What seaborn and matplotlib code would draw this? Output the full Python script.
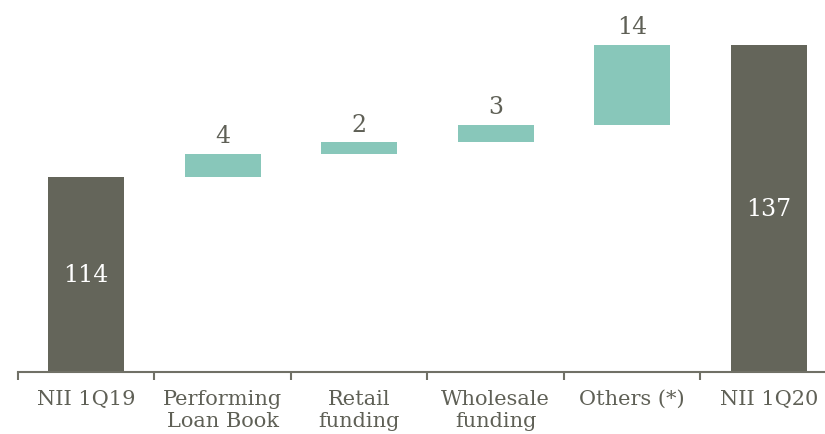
import matplotlib
matplotlib.use("Agg")
import matplotlib.pyplot as plt
import seaborn as sns
import pandas as pd
import numpy as np

# Net interest income bridge, 1Q19 -> 1Q20
categories = ["NII 1Q19", "Performing\nLoan Book", "Retail\nfunding",
              "Wholesale\nfunding", "Others (*)", "NII 1Q20"]
changes = [114, 4, 2, 3, 14, 137]
is_total = [True, False, False, False, False, True]

DARK = "#64655a"
TEAL = "#88c7ba"
TEXT = "#5f6056"

# Floating bars start where the running total left off
bases, tops = [], []
running = 0
for v, tot in zip(changes, is_total):
    if tot:
        bases.append(0)
        tops.append(v)
        running = v
    else:
        bases.append(running)
        running += v
        tops.append(running)

df = pd.DataFrame({"category": categories, "top": tops, "base": bases,
                   "change": changes, "total": is_total})

sns.set_theme(style="white")
plt.rcParams["font.family"] = ["DejaVu Serif"]

fig = plt.figure(figsize=(8.25, 4.35), dpi=100)
ax = fig.add_axes([18 / 825, 62 / 435, 819 / 825, 373 / 435])

palette = {c: (DARK if t else TEAL) for c, t in zip(categories, is_total)}
sns.barplot(data=df, x="category", y="top", hue="category", palette=palette,
            width=0.56, legend=False, saturation=1, ax=ax)

# Lift the increments so each bar spans base..top
for patch, b, t in zip(ax.patches, bases, tops):
    patch.set_y(b)
    patch.set_height(t - b)
    patch.set_edgecolor("none")

ax.set_ylim(80, 145)
ax.set_xlim(-0.5, len(categories) - 0.5)

for i, row in df.iterrows():
    if row["total"]:
        ax.text(i, (80 + row["top"]) / 2, f"{row['change']}", ha="center",
                va="center", color="white", fontsize=17)
    else:
        ax.annotate(f"{row['change']}", (i, row["top"]), xytext=(0, 5),
                    textcoords="offset points", ha="center", va="bottom",
                    color=TEXT, fontsize=17)

ax.set_xlabel("")
ax.set_ylabel("")
ax.set_yticks([])
for s in ["top", "right", "left"]:
    ax.spines[s].set_visible(False)
ax.spines["bottom"].set_color("#707066")
ax.spines["bottom"].set_linewidth(1.5)

ax.set_xticks(range(len(categories)))
ax.set_xticklabels(categories, fontsize=15, color=TEXT, linespacing=1.25)
ax.set_xticks(np.arange(-0.5, len(categories), 1.0), minor=True)
ax.tick_params(axis="x", which="major", length=0, pad=12)
ax.tick_params(axis="x", which="minor", length=6, width=1.5,
               color="#707066", direction="out", bottom=True)

fig.savefig("out.png", dpi=100)
